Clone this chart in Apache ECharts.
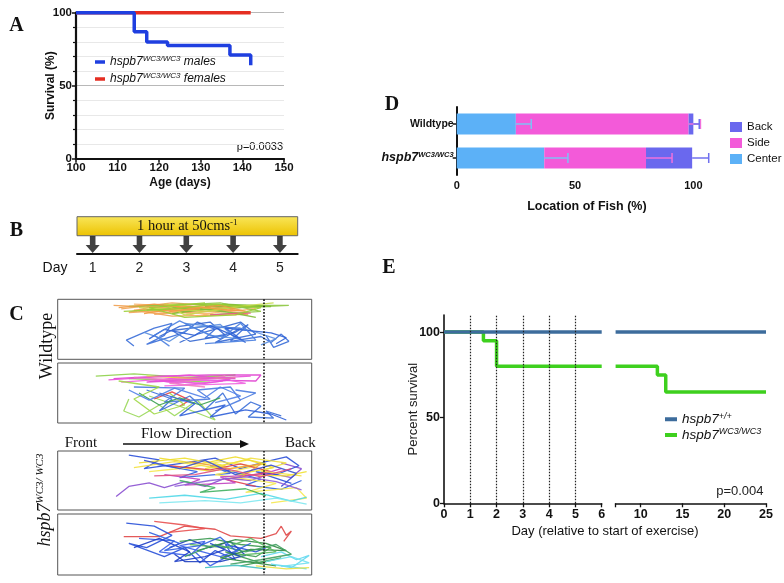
<!DOCTYPE html>
<html><head><meta charset="utf-8">
<script src="https://cdn.jsdelivr.net/npm/echarts@6/dist/echarts.min.js"></script>
<style>html,body{margin:0;padding:0;background:#fff}#c{width:784px;height:583px}</style>
</head><body><div id="c"></div>
<script>
// ---------- Panel A: survival by sex ----------
const ageMin = 100, ageMax = 150;
const malesAge = [100, 114, 117, 122, 137, 142];
const malesSurv = [100, 87, 80, 77.5, 71, 64];
const femalesAge = [100, 142];
const femalesSurv = [100, 100];
// ---------- Panel D: location of fish ----------
const locGroups = ['Wildtype', 'hspb7'];
const centerPct = [25, 37];
const sidePct = [73, 43];
const backPct = [2, 19.5];
const centerErr = [6.5, 10];
const sideErr = [5, 11];
const backErr = [2.5, 7];
const locTicks = [0, 50, 100];
// ---------- Panel B: exercise schedule ----------
const exerciseDays = [1, 2, 3, 4, 5];
// ---------- Panel E: survival after exercise ----------
const wtDays1 = [0, 6], wtSurv1 = [100, 100];
const wtDays2 = [7, 25], wtSurv2 = [100, 100];
const mutDays1 = [0, 1.5, 2, 6], mutSurv1 = [100, 95, 80, 80];
const mutDays2 = [7, 12, 13, 25], mutSurv2 = [80, 75, 65, 65];
const eDayTicks2 = [10, 15, 20, 25];
const survTicks = [0, 50, 100];
// ---------- Panel C: swimming tracks (box-relative %, y from top) ----------
const flowDividerX = 81.3;
const wt1Colors = ['#f0a050','#f2a458','#f7b26a','#8cc63f','#7dbb35','#c5d94a','#e85a8c','#3a6ed8','#3366d0','#5b8fe0','#f09a40','#9acd32','#2f62d6','#4a80e0'];
const wt1Tracks = [
  [[22,10],[40,14],[55,8],[70,18],[50,22],[35,12],[60,15],[75,25],[45,28],[30,18],[62,12]],
  [[25,16],[45,6],[66,12],[52,20],[38,25],[58,10],[72,14],[48,17],[28,22],[40,9]],
  [[30,8],[50,12],[65,20],[55,28],[42,14],[68,9],[78,16],[58,24],[36,20]],
  [[28,12],[48,8],[70,10],[91,10],[72,14],[55,18],[40,11],[64,6],[80,20],[60,26]],
  [[35,18],[52,14],[68,22],[78,30],[60,16],[45,24],[66,8],[84,12],[58,12]],
  [[32,14],[60,20],[74,10],[50,26],[42,8],[62,16],[85,6]],
  [[60,26],[68,24],[76,23]],
  [[30,78],[27,68],[38,48],[45,40],[42,60],[35,75],[50,55],[55,38],[62,50],[58,65],[70,55],[75,42],[68,70],[80,62],[84,72],[88,58],[91,70],[85,80],[82,60]],
  [[40,62],[48,45],[60,38],[66,60],[52,70],[45,52],[58,45],[72,48],[62,72],[78,58],[72,38],[55,58],[48,72]],
  [[34,55],[44,70],[52,48],[64,42],[70,65],[60,60],[50,40],[76,52],[86,66],[80,76]],
  [[24,14],[38,8],[56,16],[44,20],[64,10],[74,20],[52,12],[34,24]],
  [[26,20],[46,16],[62,8],[80,14],[70,26],[50,30],[36,14],[58,6]],
  [[36,66],[42,50],[54,60],[60,44],[68,58],[74,72],[66,48],[84,56],[90,64],[86,74]],
  [[44,78],[38,60],[48,36],[56,52],[64,66],[72,40],[78,68],[58,74]]
];
const wt2Colors = ['#8ed04a','#9ad85a','#e040d0','#f060e0','#f080c0','#e8d040','#e84040','#3a6ed8','#4a7be0','#3aa050','#e850d8','#a0d848','#3060d8','#5080e8'];
const wt2Tracks = [
  [[15,22],[30,18],[50,24],[70,20],[45,28],[28,26],[60,32]],
  [[28,60],[26,80],[32,90],[40,70],[46,88],[55,62],[62,95],[50,75],[36,55]],
  [[22,26],[40,22],[60,20],[80,20],[78,30],[55,28],[35,32],[48,24],[70,26]],
  [[25,32],[45,26],[65,30],[50,36],[38,28],[62,24],[74,34],[42,38]],
  [[30,24],[52,30],[66,22],[44,34],[58,40]],
  [[35,22],[55,26],[70,24]],
  [[38,60],[45,48],[52,62],[48,72]],
  [[35,45],[45,60],[40,80],[52,55],[58,78],[65,50],[70,85],[76,65],[80,72],[75,90],[85,92],[82,80],[88,88]],
  [[30,40],[50,42],[42,65],[60,60],[55,45],[68,40],[72,62],[62,80],[78,50],[70,45]],
  [[32,50],[40,70],[48,58],[56,70],[64,58]],
  [[20,28],[36,24],[52,20],[68,28],[58,34],[40,30],[76,22]],
  [[24,30],[40,40],[30,60],[38,85],[50,70],[44,50]],
  [[40,50],[54,68],[48,88],[66,70],[60,90],[74,78],[84,85],[90,95]],
  [[28,45],[36,62],[46,42],[58,58],[64,40],[72,55],[62,66]]
];
const mut1Colors = ['#8a4fd0','#2a4fd8','#3060e0','#f0e030','#f5e850','#eedc2a','#e04050','#c040c0','#50d8e8','#80e8f0','#40b060','#f0a040','#f2e040','#3a50d0','#e05080','#9060d8'];
const mut1Tracks = [
  [[23,77],[28,60],[36,54],[42,62],[50,52],[58,60],[66,46],[76,50],[84,38],[92,45],[96,30],[88,20]],
  [[28,7],[40,15],[34,30],[50,20],[62,12],[72,30],[82,18],[90,10],[95,25],[86,40],[78,35],[92,55]],
  [[38,22],[55,35],[48,45],[68,38],[60,25],[80,48],[74,58],[88,65],[96,50]],
  [[32,20],[50,12],[66,25],[58,30],[75,15],[85,28],[70,40],[90,42],[98,35]],
  [[36,35],[52,28],[64,18],[78,26],[62,40],[86,55],[74,70],[94,62],[98,80],[84,88]],
  [[40,12],[56,22],[70,10],[82,22],[60,34],[46,26]],
  [[44,25],[60,32],[72,22],[84,35],[66,48],[78,60]],
  [[42,40],[56,48],[50,58],[70,54],[64,44],[80,40],[88,30]],
  [[36,80],[50,75],[66,82],[80,72],[92,85],[98,78]],
  [[40,88],[58,84],[72,88],[86,80],[98,90]],
  [[48,50],[62,62],[56,70],[74,64],[82,76]],
  [[52,18],[68,30],[80,22],[72,45]],
  [[30,28],[46,18],[62,28],[76,12],[90,20],[80,34],[96,42]],
  [[34,16],[48,30],[58,16],[70,40],[84,24],[94,38],[88,60]],
  [[38,42],[54,40],[66,30],[80,44],[92,30]],
  [[46,60],[60,50],[74,44],[86,52],[96,66]]
];
const mut2Colors = ['#e04848','#e85050','#2850d8','#3a5fe8','#1f3fc0','#3a9a50','#2f8a40','#5ab860','#60d8f0','#e8e040','#40c0c0','#2040c8','#40a060','#3060e0','#70e0f0'];
const mut2Tracks = [
  [[26,37],[40,37],[50,20],[62,25],[68,36],[80,40],[86,32],[88,20],[90,35],[92,28],[89,45]],
  [[38,12],[50,18],[58,24],[44,30]],
  [[27,15],[38,20],[45,35],[35,55],[28,48],[42,70],[50,55],[56,80],[62,60],[70,75],[66,50],[78,62],[82,55]],
  [[32,40],[46,44],[40,62],[52,68],[58,45],[48,52],[64,70],[72,58],[60,85],[54,62]],
  [[44,55],[52,42],[60,55],[68,45],[74,68],[64,78],[50,78],[46,66]],
  [[48,45],[60,40],[72,50],[84,55],[78,70],[66,62],[80,80],[88,72],[72,85]],
  [[55,60],[70,42],[82,48],[90,60],[76,58],[64,72],[86,85]],
  [[52,50],[66,55],[76,40],[86,62],[70,68]],
  [[80,70],[88,62],[94,75],[99,68],[92,88],[84,82],[98,90]],
  [[78,85],[90,90],[99,88]],
  [[58,88],[70,84],[82,90]],
  [[30,55],[40,40],[52,62],[46,78],[58,70],[66,58],[60,48],[72,70]],
  [[50,70],[62,50],[74,62],[86,50],[92,66],[80,75],[68,82]],
  [[36,30],[48,48],[42,60],[56,52],[64,38],[70,60],[76,48]],
  [[82,78],[92,70],[99,80],[88,86]]
];

// ---------- build ----------
const SANS = '"Liberation Sans", Arial, sans-serif';
const SERIF = '"Liberation Serif", "Times New Roman", serif';
const INK = '#111';
const pairs = (xs, ys) => xs.map((x, i) => [x, ys[i]]);

const chart = echarts.init(document.getElementById('c'), null, {renderer: 'canvas', width: 784, height: 583});

const grids = [
  {left: 76, top: 12.7, width: 208, height: 146},          // 0 A
  {left: 456.7, top: 107, width: 260.3, height: 68},       // 1 D
  {left: 77, top: 216.7, width: 220.7, height: 36.6},      // 2 B
  {left: 57.7, top: 299.3, width: 254, height: 60, show: true, borderColor: '#555', borderWidth: 1}, // 3 C1
  {left: 57.7, top: 363, width: 254, height: 60, show: true, borderColor: '#555', borderWidth: 1},   // 4 C2
  {left: 57.7, top: 451, width: 254, height: 59, show: true, borderColor: '#555', borderWidth: 1},   // 5 C3
  {left: 57.7, top: 514, width: 254, height: 61, show: true, borderColor: '#555', borderWidth: 1},   // 6 C4
  {left: 444, top: 315, width: 157.7, height: 188.3},      // 7 E1
  {left: 615.6, top: 315, width: 150.4, height: 188.3}     // 8 E2
];

const boldLabel = (size, extra) => Object.assign({color: INK, fontFamily: SANS, fontWeight: 'bold', fontSize: size}, extra || {});

const xAxes = [
  { gridIndex: 0, type: 'value', min: ageMin, max: ageMax, interval: 10,
    axisLine: {lineStyle: {color: INK, width: 2.2}}, axisTick: {length: 4, lineStyle: {color: INK, width: 1.5}},
    axisLabel: boldLabel(11.5, {margin: 3}), splitLine: {show: false},
    name: 'Age (days)', nameLocation: 'middle', nameGap: 18, nameMoveOverlap: false,
    nameTextStyle: {fontFamily: SANS, fontWeight: 'bold', fontSize: 12, color: INK} },
  { gridIndex: 1, type: 'value', min: 0, max: 110, interval: 50,
    axisLine: {lineStyle: {color: INK, width: 2}}, axisTick: {length: 4, customValues: locTicks, lineStyle: {color: INK, width: 1.5}},
    axisLabel: boldLabel(11, {margin: 5, customValues: locTicks}), splitLine: {show: false},
    name: 'Location of Fish (%)', nameLocation: 'middle', nameGap: 25, nameMoveOverlap: false,
    nameTextStyle: {fontFamily: SANS, fontWeight: 'bold', fontSize: 12.5, color: INK} },
  { gridIndex: 2, type: 'value', min: 0.665, max: 5.38,
    axisLine: {lineStyle: {color: INK, width: 2}}, axisTick: {show: false},
    axisLabel: {customValues: exerciseDays, fontFamily: SANS, fontSize: 14, color: '#222', margin: 8},
    splitLine: {show: false} },
  {gridIndex: 3, type: 'value', min: 0, max: 100, show: false},
  {gridIndex: 4, type: 'value', min: 0, max: 100, show: false},
  {gridIndex: 5, type: 'value', min: 0, max: 100, show: false},
  {gridIndex: 6, type: 'value', min: 0, max: 100, show: false},
  { gridIndex: 7, type: 'value', min: 0, max: 6, interval: 1,
    axisLine: {lineStyle: {color: INK, width: 1.6}}, axisTick: {length: 4, lineStyle: {color: INK, width: 1.3}},
    axisLabel: boldLabel(12.5, {margin: 5}), splitLine: {show: false} },
  { gridIndex: 8, type: 'value', min: 7, max: 25,
    axisLine: {lineStyle: {color: INK, width: 1.6}},
    axisTick: {length: 4, customValues: [7].concat(eDayTicks2), lineStyle: {color: INK, width: 1.3}},
    axisLabel: boldLabel(12.5, {margin: 5, customValues: eDayTicks2}), splitLine: {show: false} }
];

const yAxes = [
  { gridIndex: 0, type: 'value', min: 0, max: 100, interval: 50,
    axisLine: {show: true, lineStyle: {color: INK, width: 2.2}},
    axisTick: {show: true, length: 4, lineStyle: {color: INK, width: 1.5}},
    minorTick: {show: true, splitNumber: 5, length: 3, lineStyle: {color: INK, width: 1.2}},
    axisLabel: boldLabel(11.5, {margin: 4}),
    splitLine: {show: true, lineStyle: {color: '#b8b8b8', width: 1}},
    minorSplitLine: {show: true, lineStyle: {color: '#e8e8e8', width: 1}},
    name: 'Survival (%)', nameLocation: 'middle', nameGap: 19.5, nameMoveOverlap: false,
    nameTextStyle: {fontFamily: SANS, fontWeight: 'bold', fontSize: 12, color: INK} },
  { gridIndex: 1, type: 'category', data: locGroups, inverse: true,
    axisLine: {show: true, lineStyle: {color: INK, width: 2}},
    axisTick: {show: true, alignWithLabel: true, length: 4, lineStyle: {color: INK, width: 1.5}},
    axisLabel: { margin: 3,
      formatter: v => v === 'Wildtype' ? '{b|Wildtype}' : '{i|hspb7}{s|WC3/WC3}',
      rich: { b: {fontFamily: SANS, fontWeight: 'bold', fontSize: 10.5, color: INK},
              i: {fontFamily: SANS, fontWeight: 'bold', fontStyle: 'italic', fontSize: 12.5, color: INK, lineHeight: 15},
              s: {fontFamily: SANS, fontWeight: 'bold', fontStyle: 'italic', fontSize: 7.5, color: INK, verticalAlign: 'top', lineHeight: 9} } } },
  {gridIndex: 2, type: 'value', min: 0, max: 1, show: false},
  {gridIndex: 3, type: 'value', min: 0, max: 100, inverse: true, show: false},
  {gridIndex: 4, type: 'value', min: 0, max: 100, inverse: true, show: false},
  {gridIndex: 5, type: 'value', min: 0, max: 100, inverse: true, show: false},
  {gridIndex: 6, type: 'value', min: 0, max: 100, inverse: true, show: false},
  { gridIndex: 7, type: 'value', min: 0, max: 110, interval: 50,
    axisLine: {show: true, lineStyle: {color: INK, width: 1.6}},
    axisTick: {show: true, length: 4, customValues: survTicks, lineStyle: {color: INK, width: 1.3}},
    axisLabel: boldLabel(12.5, {margin: 4, customValues: survTicks}), splitLine: {show: false},
    name: 'Percent survival', nameLocation: 'middle', nameGap: 24, nameMoveOverlap: false,
    nameTextStyle: {fontFamily: SANS, fontSize: 13, color: '#222'} },
  {gridIndex: 8, type: 'value', min: 0, max: 110, show: false}
];

const series = [];
// A
series.push({name: 'females', type: 'line', xAxisIndex: 0, yAxisIndex: 0, step: 'end', symbol: 'none',
  data: pairs(femalesAge, femalesSurv), lineStyle: {color: '#e52e22', width: 3.5}, itemStyle: {color: '#e52e22'}, z: 3});
series.push({name: 'males', type: 'line', xAxisIndex: 0, yAxisIndex: 0, step: 'end', symbol: 'none',
  data: pairs(malesAge, malesSurv), lineStyle: {color: '#1f3fe0', width: 3.5}, itemStyle: {color: '#1f3fe0'}, z: 4});
// D
const locColors = {Center: '#5cb1f7', Side: '#f35ad9', Back: '#6a68ee'};
[['Center', centerPct], ['Side', sidePct], ['Back', backPct]].forEach(([nm, vals]) => {
  series.push({name: nm, type: 'bar', stack: 'loc', xAxisIndex: 1, yAxisIndex: 1, barWidth: 21,
    data: vals, itemStyle: {color: locColors[nm]}});
});
function errRender(params, api) {
  const p0 = api.coord([api.value(0), api.value(2)]);
  const p1 = api.coord([api.value(1), api.value(2)]);
  const st = {stroke: api.visual('color'), lineWidth: 1.5};
  return {type: 'group', children: [
    {type: 'line', shape: {x1: p0[0], y1: p0[1], x2: p1[0], y2: p1[1]}, style: st},
    {type: 'line', shape: {x1: p1[0], y1: p1[1] - 5, x2: p1[0], y2: p1[1] + 5}, style: st}
  ]};
}
const errData = (startArr, errArr) => startArr.map((s, i) => [s, s + errArr[i], i]);
const cEnd = centerPct;
const sEnd = centerPct.map((c, i) => c + sidePct[i]);
const bEnd = sEnd.map((s, i) => s + backPct[i]);
series.push({name: 'errCenter', type: 'custom', xAxisIndex: 1, yAxisIndex: 1, renderItem: errRender,
  encode: {x: [0, 1], y: 2}, data: errData(cEnd, centerErr), itemStyle: {color: '#7fc0f5'}, z: 5});
series.push({name: 'errSide', type: 'custom', xAxisIndex: 1, yAxisIndex: 1, renderItem: errRender,
  encode: {x: [0, 1], y: 2}, data: errData(sEnd, sideErr), itemStyle: {color: '#f070dc'}, z: 5});
series.push({name: 'errBack', type: 'custom', xAxisIndex: 1, yAxisIndex: 1, renderItem: errRender,
  encode: {x: [0, 1], y: 2}, data: errData(bEnd, backErr), itemStyle: {color: '#7070ee'}, z: 6});
// B
const bMin = 0.665, bMax = 5.38;
series.push({name: 'arrows', type: 'scatter', xAxisIndex: 2, yAxisIndex: 2,
  data: exerciseDays.map(d => [d, 0.24]),
  symbol: 'path://M3,0 L7,0 L7,9 L10,9 L5,17 L0,9 L3,9 Z', symbolSize: [14, 17],
  itemStyle: {color: '#111'}, silent: true,
  markArea: {silent: true,
    itemStyle: {color: new echarts.graphic.LinearGradient(0, 0, 0, 1, [{offset: 0, color: '#f9e65a'}, {offset: 1, color: '#ecc200'}]),
      borderColor: '#666', borderWidth: 1},
    label: {show: true, position: 'inside', formatter: '{a|1 hour at 50cms}{b|-1}',
      rich: {a: {fontFamily: SERIF, fontSize: 14.5, color: '#111', lineHeight: 16},
             b: {fontFamily: SERIF, fontSize: 9, color: '#111', verticalAlign: 'top', lineHeight: 9}}},
    data: [[{xAxis: bMin, yAxis: 0.48}, {xAxis: bMax, yAxis: 1}]]}});
// C
const cTracks = [wt1Tracks, wt2Tracks, mut1Tracks, mut2Tracks];
const cColors = [wt1Colors, wt2Colors, mut1Colors, mut2Colors];
cTracks.forEach((tracks, bi) => {
  tracks.forEach((pts, ti) => series.push({name: 'track' + bi + '_' + ti, type: 'line', xAxisIndex: 3 + bi, yAxisIndex: 3 + bi,
    data: pts, symbol: 'none', silent: true, lineStyle: {color: cColors[bi][ti], width: 1.3, opacity: 0.9}, z: 2}));
  series.push({name: 'divider' + bi, type: 'line', xAxisIndex: 3 + bi, yAxisIndex: 3 + bi, data: [], symbol: 'none', z: 3,
    markLine: {silent: true, symbol: ['none', 'none'], label: {show: false},
      lineStyle: {type: 'dotted', color: '#111', width: 1.6}, data: [{xAxis: flowDividerX}]}});
});
// E
series.push({name: 'exercise', type: 'line', xAxisIndex: 7, yAxisIndex: 7, data: [], symbol: 'none', z: 1,
  markLine: {silent: true, symbol: ['none', 'none'], label: {show: false},
    lineStyle: {type: [1.5, 1.5], color: '#222', width: 1.2}, data: exerciseDays.map(d => ({xAxis: d}))}});
const wtColor = '#3d6c9c', mutColor = '#3ed01e';
series.push({name: 'wt', type: 'line', xAxisIndex: 7, yAxisIndex: 7, step: 'end', symbol: 'none', data: pairs(wtDays1, wtSurv1), lineStyle: {color: wtColor, width: 3.5}, itemStyle: {color: wtColor}, z: 4});
series.push({name: 'wt', type: 'line', xAxisIndex: 8, yAxisIndex: 8, step: 'end', symbol: 'none', data: pairs(wtDays2, wtSurv2), lineStyle: {color: wtColor, width: 3.5}, itemStyle: {color: wtColor}, z: 4});
series.push({name: 'mut', type: 'line', xAxisIndex: 7, yAxisIndex: 7, step: 'end', symbol: 'none', data: pairs(mutDays1, mutSurv1), lineStyle: {color: mutColor, width: 3.5}, itemStyle: {color: mutColor}, z: 3});
series.push({name: 'mut', type: 'line', xAxisIndex: 8, yAxisIndex: 8, step: 'end', symbol: 'none', data: pairs(mutDays2, mutSurv2), lineStyle: {color: mutColor, width: 3.5}, itemStyle: {color: mutColor}, z: 3});

const supRich = (main, sup) => ({
  i: {fontFamily: SANS, fontStyle: 'italic', fontSize: main, color: INK, lineHeight: main + 2},
  s: {fontFamily: SANS, fontStyle: 'italic', fontSize: sup, color: INK, verticalAlign: 'top', lineHeight: sup + 1}
});

const legends = [
  { data: ['males', 'females'], left: 90, top: 50, orient: 'vertical', icon: 'rect', itemWidth: 10, itemHeight: 3.5, itemGap: 4,
    selectedMode: false,
    formatter: n => n === 'males' ? '{i|hspb7}{s|WC3/WC3}{i| males}' : '{i|hspb7}{s|WC3/WC3}{i| females}',
    textStyle: {rich: supRich(12, 8)} },
  { data: ['Back', 'Side', 'Center'], left: 725, top: 116, orient: 'vertical', icon: 'rect', itemWidth: 12, itemHeight: 10, itemGap: 4,
    selectedMode: false, textStyle: {fontFamily: SANS, fontSize: 11.5, color: INK} },
  { data: ['wt', 'mut'], left: 660, top: 406.5, orient: 'vertical', icon: 'rect', itemWidth: 12, itemHeight: 4, itemGap: 1,
    selectedMode: false,
    formatter: n => n === 'wt' ? '{i|hspb7}{s|+/+}' : '{i|hspb7}{s|WC3/WC3}',
    textStyle: {rich: supRich(13.5, 9)} }
];

const txt = (x, y, text, font, extra) => Object.assign({type: 'text', x: x, y: y, silent: true,
  style: {text: text, font: font, fill: INK, align: 'center', verticalAlign: 'middle', textAlign: 'center', textVerticalAlign: 'middle'}}, extra || {});
const panelFont = 'bold 20px ' + SERIF;
const graphic = [
  txt(16.5, 26, 'A', panelFont),
  txt(16.5, 231, 'B', panelFont),
  txt(16.5, 315, 'C', panelFont),
  txt(392, 104.5, 'D', panelFont),
  txt(389, 267.5, 'E', panelFont),
  txt(283, 147, 'p=0.0033', '11px ' + SANS, {style: {text: 'p=0.0033', font: '11px ' + SANS, fill: INK, align: 'right', verticalAlign: 'middle', textAlign: 'right', textVerticalAlign: 'middle'}}),
  txt(763.5, 491.5, 'p=0.004', '13px ' + SANS, {style: {text: 'p=0.004', font: '13px ' + SANS, fill: '#222', align: 'right', verticalAlign: 'middle', textAlign: 'right', textVerticalAlign: 'middle'}}),
  txt(605, 531.5, 'Day (relative to start of exercise)', '13px ' + SANS),
  txt(55, 268, 'Day', '14px ' + SANS),
  txt(47, 346, 'Wildtype', '18px ' + SERIF, {rotation: Math.PI / 2}),
  {type: 'text', x: 45, y: 500, rotation: Math.PI / 2, silent: true,
   style: {text: '{i|hspb7}{s|WC3/ WC3}', align: 'center', verticalAlign: 'middle', textAlign: 'center', textVerticalAlign: 'middle',
     rich: {i: {fontFamily: SERIF, fontStyle: 'italic', fontSize: 18, fill: INK, color: INK, lineHeight: 20},
            s: {fontFamily: SERIF, fontStyle: 'italic', fontSize: 11, fill: INK, color: INK, verticalAlign: 'top', lineHeight: 11}}}},
  txt(81, 443, 'Front', '15px ' + SERIF),
  txt(186.5, 434.5, 'Flow Direction', '15px ' + SERIF),
  {type: 'text', x: 285, y: 443, silent: true, style: {text: 'Back', font: '15px ' + SERIF, fill: INK, align: 'left', verticalAlign: 'middle', textAlign: 'left', textVerticalAlign: 'middle'}},
  {type: 'line', silent: true, shape: {x1: 123, y1: 444, x2: 242, y2: 444}, style: {stroke: INK, lineWidth: 1.5}},
  {type: 'polygon', silent: true, shape: {points: [[249, 444], [240, 440], [240, 448]]}, style: {fill: INK}}
];

chart.setOption({
  animation: false,
  backgroundColor: '#fff',
  textStyle: {fontFamily: SANS},
  grid: grids,
  xAxis: xAxes,
  yAxis: yAxes,
  legend: legends,
  series: series,
  graphic: graphic
});
</script>
</body></html>
